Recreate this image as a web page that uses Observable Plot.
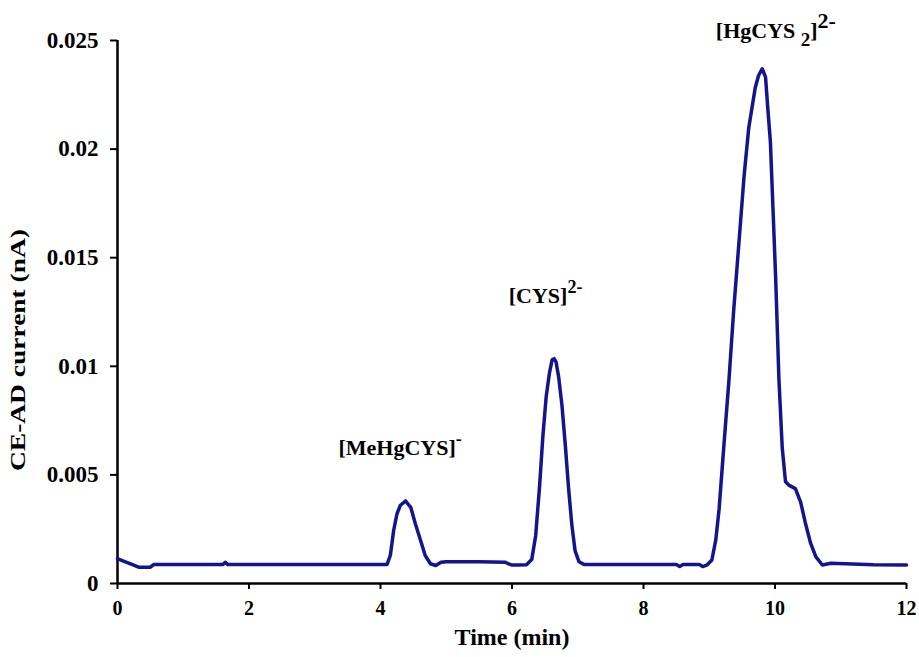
<!DOCTYPE html>
<html>
<head>
<meta charset="utf-8">
<script src="https://cdn.jsdelivr.net/npm/d3@7"></script>
<script src="https://cdn.jsdelivr.net/npm/@observablehq/plot@0.6"></script>
<style>
  html, body { margin: 0; padding: 0; background: #fff; }
  #chart { width: 919px; height: 657px; }
</style>
</head>
<body>
<div id="chart"></div>
<script>
// Electropherogram: CE-AD current vs migration time
const time = [
  0, 0.1, 0.2, 0.32, 0.5, 0.55, 1.0, 1.6, 1.64, 1.68, 2.5, 3.3, 4.1,
  4.15, 4.2, 4.25, 4.3, 4.38, 4.46, 4.53, 4.61, 4.68, 4.76, 4.84, 4.92,
  5.0, 5.5, 5.9, 5.95, 6.0, 6.1, 6.22,
  6.3, 6.36, 6.42, 6.47, 6.52, 6.57, 6.61, 6.64, 6.67, 6.71, 6.76, 6.81, 6.86, 6.91, 6.96, 7.02, 7.1,
  7.5, 8.0, 8.5, 8.55, 8.6, 8.85, 8.9, 8.97,
  9.04, 9.1, 9.15, 9.22, 9.3, 9.37, 9.45, 9.53, 9.6, 9.65, 9.7, 9.75, 9.805,
  9.856, 9.89, 9.93, 9.97, 10.01, 10.06, 10.11, 10.16, 10.21, 10.31, 10.39, 10.46, 10.54, 10.62, 10.72, 10.85,
  11.5, 12
];
const current = [
  0.00114, 0.00102, 0.0009, 0.00075, 0.00075, 0.00087, 0.00087, 0.00087, 0.00098, 0.00087, 0.00087, 0.00087, 0.00088,
  0.0013, 0.00244, 0.0032, 0.00359, 0.0038, 0.00351, 0.00275, 0.00198, 0.00129, 0.00091, 0.00083, 0.00098,
  0.001, 0.001, 0.00098, 0.0009, 0.00085, 0.00085, 0.00086,
  0.0011, 0.0022, 0.0045, 0.0068, 0.0086, 0.0097, 0.0103, 0.01035, 0.0102, 0.0095, 0.0082, 0.0064, 0.0044, 0.0027, 0.0015, 0.001, 0.00087,
  0.00087, 0.00087, 0.00087, 0.00078, 0.00087, 0.00087, 0.00078, 0.00086,
  0.00108, 0.00202, 0.00343, 0.00625, 0.00938, 0.01251, 0.01564, 0.01877, 0.02096, 0.0219, 0.02284, 0.02339, 0.0237,
  0.02331, 0.0219, 0.02033, 0.0172, 0.01407, 0.00938, 0.00625, 0.00468, 0.00453, 0.00437, 0.00375, 0.00281, 0.00187, 0.00124, 0.00085, 0.00093,
  0.00086, 0.00085
];

// Axis ticks
const xTicks = [0, 2, 4, 6, 8, 10, 12];
const yTicks = [0, 0.005, 0.01, 0.015, 0.02, 0.025];
const yTickLabels = ["0", "0.005", "0.01", "0.015", "0.02", "0.025"];

// Peak annotations: ^{...} superscript, _{...} subscript
const peakLabels = ["[MeHgCYS]^{-}", "[CYS]^{2-}", "[HgCYS _{2}]^{2-}"];
const peakLabelTime = [3.36, 5.95, 9.1];
const peakLabelCurrent = [0.0059, 0.0129, 0.0251];
const peakSupSize = [18, 18, 22];

const xTitle = "Time (min)";
const yTitle = "CE-AD current (nA)";

const trace = time.map((t, i) => ({t, v: current[i]}));
const labels = peakLabels.map((s, i) => ({s, t: peakLabelTime[i], v: peakLabelCurrent[i]}));

const ink = "#14148c";
const serif = "'Liberation Serif', 'Times New Roman', serif";

const chart = Plot.plot({
  width: 919,
  height: 657,
  marginLeft: 117,
  marginRight: 13,
  marginTop: 40,
  marginBottom: 74,
  style: {fontFamily: serif, fontWeight: "bold", background: "#fff", color: "#000", overflow: "visible"},
  x: {domain: [0, 12], label: null},
  y: {domain: [0, 0.025], label: null},
  marks: [
    Plot.axisX({ticks: xTicks, tickSize: 6, tickPadding: 11, fontSize: 20, fontWeight: "bold", strokeWidth: 2, label: null, tickFormat: d => String(d)}),
    Plot.axisY({ticks: yTicks, tickSize: 7, tickPadding: 12, fontSize: 23, fontWeight: "bold", strokeWidth: 2, label: null, tickFormat: (d, i) => yTickLabels[i]}),
    Plot.ruleX([0], {y1: 0, y2: 0.025, stroke: "#000", strokeWidth: 2.5}),
    Plot.ruleY([0], {stroke: "#000", strokeWidth: 2.5}),
    Plot.line(trace, {x: "t", y: "v", stroke: ink, strokeWidth: 3.5, curve: "linear", strokeLinejoin: "round"}),
    Plot.text(labels, {x: "t", y: "v", text: "s", textAnchor: "start", lineAnchor: "bottom", fontSize: 22, fontWeight: "bold", fill: "#000"}),
    Plot.text([xTitle], {frameAnchor: "bottom", dy: 61, fontSize: 24, fontWeight: "bold", fill: "#000"}),
    Plot.text([yTitle], {frameAnchor: "left", dx: -99, dy: 159, rotate: -90, textAnchor: "start", fontSize: 21, fontWeight: "bold", fill: "#000"})
  ]
});

document.getElementById("chart").appendChild(chart);

const svg = d3.select(chart.tagName === "svg" ? chart : chart.querySelector("svg"));

// Rich text for the peak labels: raised charges, lowered stoichiometry
svg.selectAll("text").filter(function() { return peakLabels.includes(this.textContent); }).each(function() {
  const node = d3.select(this);
  const src = this.textContent;
  const supSize = peakSupSize[peakLabels.indexOf(src)];
  node.selectAll("*").remove();
  node.text(null);
  const parts = src.split(/(\^\{[^}]*\}|_\{[^}]*\})/).filter(p => p.length);
  let shift = 0;
  for (const p of parts) {
    let target = 0, size = null, str = p;
    if (p.startsWith("^{")) { target = -10; size = supSize; str = p.slice(2, -1); }
    else if (p.startsWith("_{")) { target = 8; size = 19; str = p.slice(2, -1); }
    const ts = node.append("tspan").attr("dy", target - shift).text(str);
    if (size) ts.attr("font-size", size);
    shift = target;
  }
});

// Stretch the rotated axis title along its baseline
svg.selectAll("text").filter(function() { return this.textContent === yTitle; })
  .attr("text-anchor", "start")
  .attr("textLength", 242)
  .attr("lengthAdjust", "spacingAndGlyphs");
</script>
</body>
</html>
